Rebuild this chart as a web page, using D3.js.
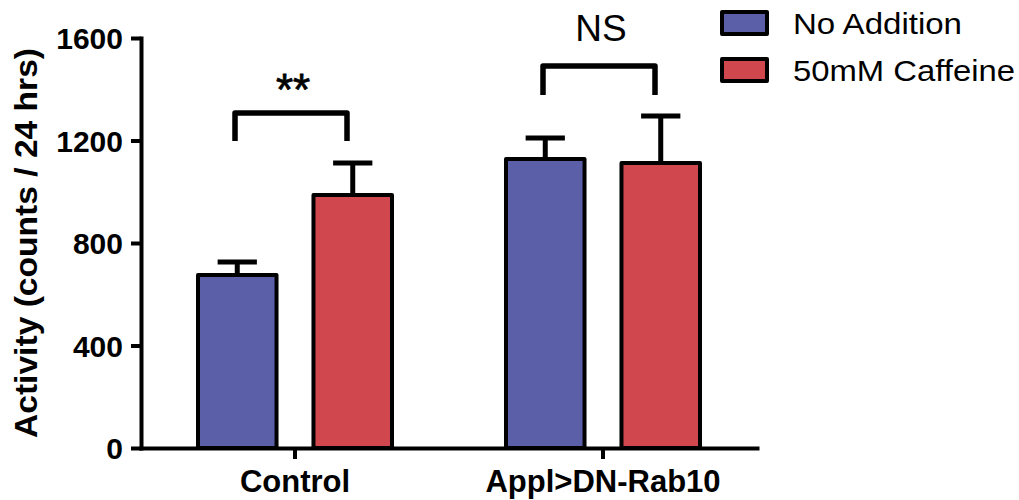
<!DOCTYPE html>
<html>
<head>
<meta charset="utf-8">
<script src="https://cdn.jsdelivr.net/npm/d3@7"></script>
<style>
  body { margin: 0; background: #fff; }
  svg { font-family: "Liberation Sans", Arial, sans-serif; }
</style>
</head>
<body>
<svg id="chart" width="1019" height="500"></svg>
<script>
// data
var categories = ['Control', 'Appl>DN-Rab10'];
var series = ['No Addition', '50mM Caffeine'];
var means = [[675, 987], [1128, 1112]];
var errors = [[51, 125], [82, 184]];
var yTicks = [0, 400, 800, 1200, 1600];
var brackets = [
  { cat: 'Control', top: 1307, leg: 1198, label: '**' },
  { cat: 'Appl>DN-Rab10', top: 1491, leg: 1378, label: 'NS' }
];
var colors = ['#5a5fa8', '#d0474e'];

var svg = d3.select('#chart');
var mLeft = 141, mRight = 757, mTop = 38, mBottom = 448;

var y = d3.scaleLinear().domain([0, 1600]).range([mBottom, mTop]);
var x0 = d3.scaleBand().domain(categories).range([mLeft, mRight]);
var bw = x0.bandwidth();
var x1 = d3.scaleBand().domain(series).range([bw / 2 - 97, bw / 2 + 97]).paddingInner(0.32);

var rows = [];
categories.forEach(function(c, i) {
  series.forEach(function(s, j) {
    rows.push({ cat: c, ser: s, j: j, v: means[i][j], e: errors[i][j] });
  });
});

// error bars (behind bars)
var eb = svg.append('g').attr('stroke', '#000').attr('stroke-width', 5);
rows.forEach(function(d) {
  var cx = x0(d.cat) + x1(d.ser) + x1.bandwidth() / 2;
  eb.append('line').attr('x1', cx).attr('x2', cx).attr('y1', y(d.v)).attr('y2', y(d.v + d.e));
  eb.append('line').attr('x1', cx - x1.bandwidth() / 4).attr('x2', cx + x1.bandwidth() / 4)
    .attr('y1', y(d.v + d.e)).attr('y2', y(d.v + d.e));
});

svg.append('g').selectAll('rect').data(rows).enter().append('rect')
  .attr('x', function(d) { return x0(d.cat) + x1(d.ser); })
  .attr('y', function(d) { return y(d.v); })
  .attr('width', x1.bandwidth())
  .attr('height', function(d) { return y(0) - y(d.v); })
  .attr('fill', function(d) { return colors[d.j]; })
  .attr('stroke', '#000').attr('stroke-width', 4).attr('stroke-linejoin', 'round');

// axes
var yAxis = svg.append('g').attr('transform', 'translate(' + mLeft + ',0)')
  .call(d3.axisLeft(y).tickValues(yTicks).tickFormat(d3.format('d')).tickSize(10).tickSizeOuter(0).tickPadding(8));
var xAxis = svg.append('g').attr('transform', 'translate(0,' + mBottom + ')')
  .call(d3.axisBottom(x0).tickSize(11).tickSizeOuter(0).tickPadding(4));
[yAxis, xAxis].forEach(function(a) {
  a.selectAll('path, line').attr('stroke', '#000').attr('stroke-width', 4);
  a.select('.domain').attr('stroke-linecap', 'square');
  a.selectAll('text').attr('fill', '#000').attr('font-weight', 'bold')
    .attr('font-family', '"Liberation Sans", Arial, sans-serif');
});
yAxis.selectAll('text').attr('font-size', 30).attr('dy', '0.36em');
xAxis.selectAll('text').attr('font-size', 31).attr('dy', '0.92em');

svg.append('text')
  .attr('transform', 'translate(37,243) rotate(-90)')
  .attr('text-anchor', 'middle')
  .attr('font-size', 31).attr('font-weight', 'bold')
  .attr('textLength', 390).attr('lengthAdjust', 'spacingAndGlyphs')
  .text('Activity (counts / 24 hrs)');

// significance brackets
brackets.forEach(function(b) {
  var cx = x0(b.cat) + bw / 2 - 4;
  var half = 56;
  svg.append('path')
    .attr('d', 'M' + (cx - half) + ',' + y(b.leg) + 'V' + y(b.top) + 'H' + (cx + half) + 'V' + y(b.leg))
    .attr('fill', 'none').attr('stroke', '#000').attr('stroke-width', 5.5)
    .attr('stroke-linejoin', 'round');
  svg.append('text')
    .attr('x', cx + 2).attr('y', b.label === '**' ? y(b.top) - 8 : y(b.top) - 25)
    .attr('text-anchor', 'middle')
    .attr('font-size', b.label === '**' ? 44 : 37)
    .attr('stroke', b.label === '**' ? '#000' : 'none').attr('stroke-width', 0.8)
    .text(b.label);
});

// legend
var lg = svg.append('g').attr('transform', 'translate(722,12)');
series.forEach(function(s, j) {
  var g = lg.append('g').attr('transform', 'translate(0,' + j * 47 + ')');
  g.append('rect').attr('width', 45).attr('height', 22)
    .attr('fill', colors[j]).attr('stroke', '#000').attr('stroke-width', 4)
    .attr('stroke-linejoin', 'round');
  g.append('text').attr('x', 71).attr('y', 22).attr('font-size', 30)
    .attr('textLength', j === 0 ? 169 : 222).attr('lengthAdjust', 'spacingAndGlyphs')
    .text(s);
});
</script>
</body>
</html>
